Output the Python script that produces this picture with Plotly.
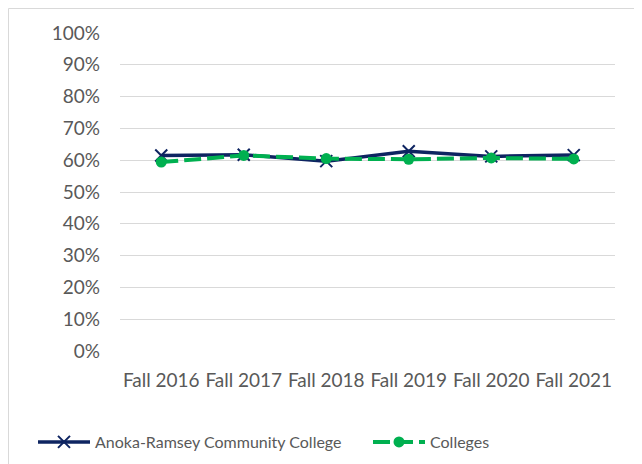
import plotly.graph_objects as go

categories = ["Fall 2016", "Fall 2017", "Fall 2018", "Fall 2019", "Fall 2020", "Fall 2021"]
arcc = [0.615, 0.617, 0.597, 0.628, 0.612, 0.616]
colleges = [0.594, 0.615, 0.605, 0.603, 0.607, 0.604]
tick_vals = [i / 10 for i in range(11)]
tick_text = [f"{i*10}%" for i in range(11)]

# page body has an 8px default margin; positions below are in figure coords
OFF = 8
W, H = 642, 464
L, T = 120 - OFF, 33 - OFF
R = W - (615 - OFF)
B = H - (351 - OFF)
pw, ph = W - L - R, H - T - B

fig = go.Figure()
fig.add_trace(go.Scatter(
    x=categories, y=arcc, name="Anoka-Ramsey Community College",
    mode="lines+markers",
    line=dict(color="#0E2461", width=3.5),
    marker=dict(symbol="x-thin", size=12, line=dict(color="#0E2461", width=2)),
    legend="legend",
))
fig.add_trace(go.Scatter(
    x=categories, y=colleges, name="Colleges",
    mode="lines+markers",
    line=dict(color="#00B050", width=4, dash="17px,6px"),
    marker=dict(symbol="circle", size=11, color="#00B050"),
    legend="legend2",
))

fig.add_shape(type="rect", xref="paper", yref="paper",
              x0=(0.5 - L) / pw, x1=(W + 5 - L) / pw,
              y0=(T + ph - (H + 5)) / ph, y1=(T + ph - 0.5) / ph,
              line=dict(color="#D9D9D9", width=1), layer="below")

leg_y = (T + ph - (442 - OFF)) / ph
leg_common = dict(orientation="h", xanchor="left", y=leg_y, yanchor="middle",
                  font=dict(size=16), itemwidth=52, bgcolor="rgba(0,0,0,0)")

fig.update_layout(
    width=W, height=H,
    margin=dict(l=L, r=R, t=T, b=B, autoexpand=False),
    paper_bgcolor="white", plot_bgcolor="white",
    font=dict(family="Lato, Open Sans, sans-serif", size=19, color="#595959"),
    xaxis=dict(range=[-0.5, 5.5], showgrid=False, showline=False, zeroline=False,
               ticks="", tickfont=dict(size=19), ticklabelstandoff=16),
    yaxis=dict(range=[0, 1], tickvals=tick_vals, ticktext=tick_text,
               showgrid=True, gridcolor="#D9D9D9", gridwidth=1,
               zeroline=False, showline=False, ticks="", ticklen=0,
               tickfont=dict(size=19), ticklabelstandoff=19),
    legend=dict(x=(33 - OFF - L) / pw, **leg_common),
    legend2=dict(x=(368 - OFF - L) / pw, **leg_common),
    showlegend=True,
)
fig.write_html("out.html")
